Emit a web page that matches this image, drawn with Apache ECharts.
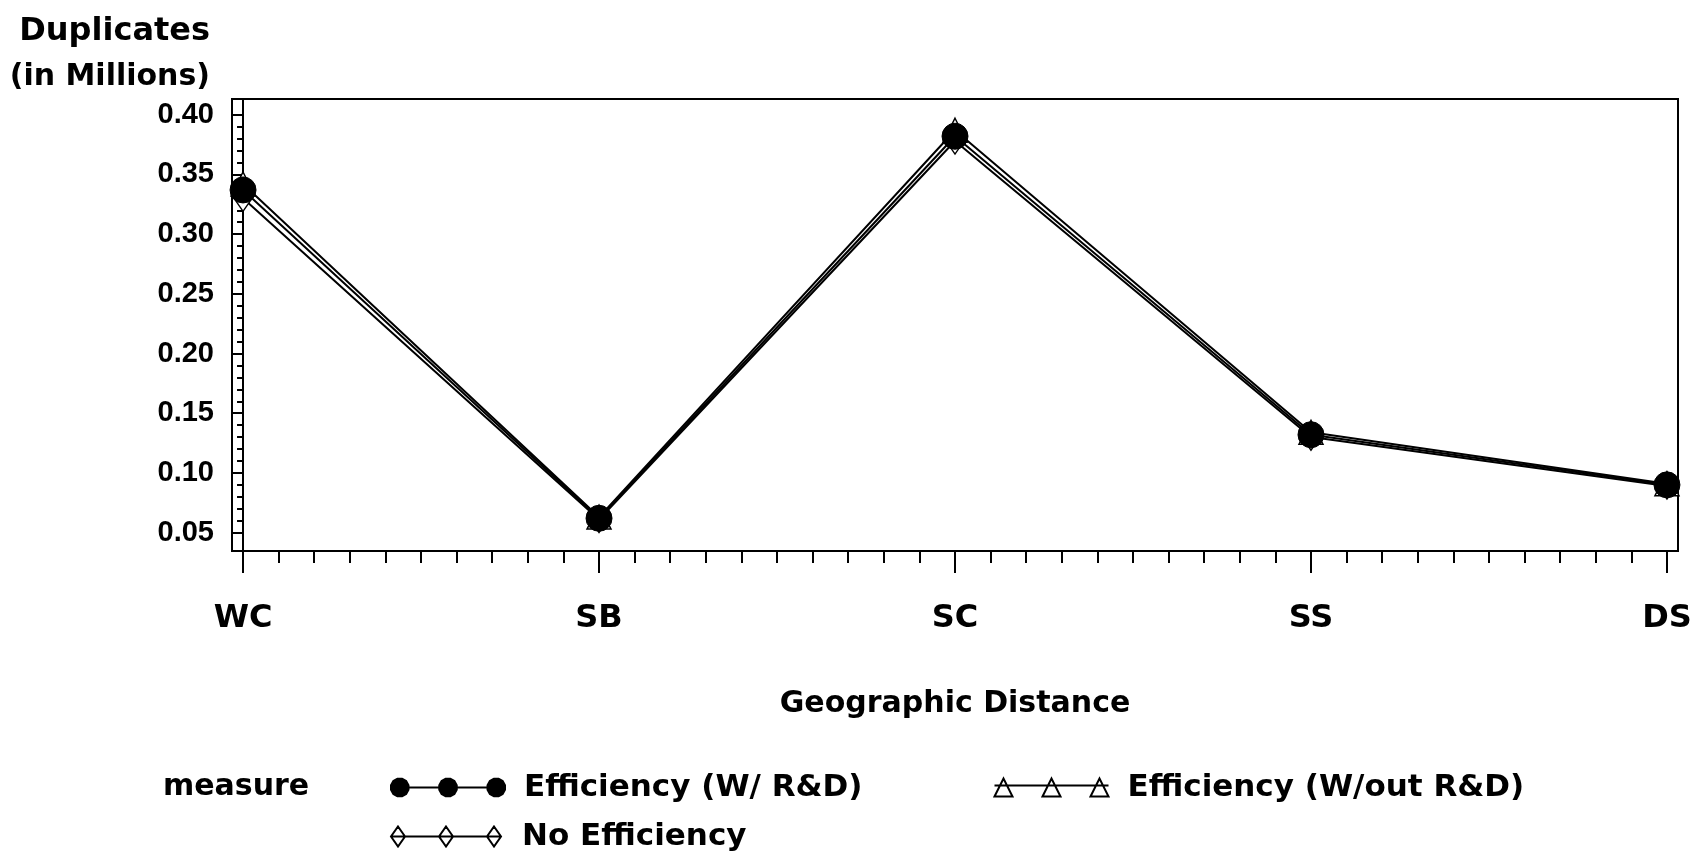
<!DOCTYPE html>
<html>
<head>
<meta charset="utf-8">
<script src="https://cdn.jsdelivr.net/npm/echarts@6/dist/echarts.min.js"></script>
<style>
html,body{margin:0;padding:0;background:#fff;}
#chart{width:1701px;height:852px;}
</style>
</head>
<body>
<div id="chart"></div>
<script>
// ---- data ----
var categories = ['WC', 'SB', 'SC', 'SS', 'DS'];
var seriesNames = ['Efficiency (W/ R&D)', 'Efficiency (W/out R&D)', 'No Efficiency'];
var effWithRD    = [0.337, 0.062, 0.382, 0.132, 0.090];
var effWithoutRD = [0.342, 0.063, 0.387, 0.134, 0.091];
var noEfficiency = [0.330, 0.061, 0.378, 0.130, 0.089];
var yTickValues = [0.05, 0.10, 0.15, 0.20, 0.25, 0.30, 0.35, 0.40];
var xTickValues = [0, 1, 2, 3, 4];

// ---- helpers ----
var FONT = 'DejaVu Sans';
var NUMFONT = 'Liberation Sans';
function pairs(vals) { return vals.map(function (v, i) { return [i, v]; }); }
var yMinor = [];
for (var k = 5; k <= 40; k++) yMinor.push(+(k / 100).toFixed(2));
var xMinor = [];
for (var c = 0; c < 4; c++) for (var m = 1; m <= 9; m++) xMinor.push(c + m / 10);

function polyAround(cx, cy, r, n, rot) {
  var s = '';
  for (var i = 0; i < n; i++) {
    var a = rot + i * 2 * Math.PI / n;
    s += (i === 0 ? 'M' : 'L') + (cx + r * Math.cos(a)).toFixed(2) + ' ' + (cy + r * Math.sin(a)).toFixed(2) + ' ';
  }
  return s + 'Z ';
}
var centers = [9, 57, 105];
var iconCircle = 'path://' + centers.map(function (x) { return polyAround(x, 10, 9, 12, Math.PI / 12); }).join('') + 'M9 10 L105 10';
var iconTriangle = 'path://' + centers.map(function (x) { return 'M' + (x - 9) + ' 19 L' + x + ' 1 L' + (x + 9) + ' 19 Z '; }).join('') + 'M0 8 L114 8';
var iconDiamond = 'path://' + centers.map(function (x) { return 'M' + x + ' 0 L' + (x + 7) + ' 10 L' + x + ' 20 L' + (x - 7) + ' 10 Z '; }).join('') + 'M2 10 L112 10';

var YMIN = 0.0346, YMAX = 0.4132, XMIN = -0.031, XMAX = 4.031;
var txt = { fontFamily: FONT, fontWeight: 'bold', color: '#000' };
var numTxt = { fontFamily: NUMFONT, fontWeight: 'bold', color: '#000' };

var chart = echarts.init(document.getElementById('chart'));
chart.setOption({
  animation: false,
  backgroundColor: '#fff',
  grid: { left: 232, right: 23, top: 99, bottom: 301, show: true, borderColor: '#000', borderWidth: 2, backgroundColor: 'transparent' },
  xAxis: [{
    type: 'value', min: XMIN, max: XMAX, position: 'bottom',
    name: 'Geographic Distance', nameLocation: 'middle', nameGap: 138,
    nameTextStyle: Object.assign({ fontSize: 30 }, txt),
    axisLine: { show: true, lineStyle: { color: '#000', width: 2 } },
    axisTick: { show: true, customValues: xTickValues, length: 22, lineStyle: { color: '#000', width: 2 } },
    axisLabel: Object.assign({ customValues: xTickValues, fontSize: 32, margin: 52,
      formatter: function (v) { return categories[Math.round(v)]; } }, txt),
    splitLine: { show: false }
  }, {
    type: 'value', min: XMIN, max: XMAX, position: 'bottom',
    axisLine: { show: false },
    axisTick: { show: true, customValues: xMinor, length: 12, lineStyle: { color: '#000', width: 2 } },
    axisLabel: { show: false }, splitLine: { show: false }
  }],
  yAxis: [{
    type: 'value', min: YMIN, max: YMAX, position: 'left',
    name: '{a|Duplicates}\n{b|(in Millions)}', nameLocation: 'end', nameGap: -2,
    nameTextStyle: Object.assign({ fontSize: 30, lineHeight: 46, align: 'right', verticalAlign: 'bottom', padding: [0, 33, 0, 0],
      rich: { a: Object.assign({ fontSize: 32, lineHeight: 46 }, txt), b: Object.assign({ fontSize: 30, lineHeight: 46 }, txt) } }, txt),
    axisLine: { show: true, lineStyle: { color: '#000', width: 2 } },
    axisTick: { show: true, customValues: yTickValues, length: 11, lineStyle: { color: '#000', width: 2 } },
    axisLabel: Object.assign({ customValues: yTickValues, fontSize: 29, margin: 18,
      formatter: function (v) { return v.toFixed(2); } }, numTxt),
    splitLine: { show: false }
  }, {
    type: 'value', min: YMIN, max: YMAX, position: 'left',
    axisLine: { show: false },
    axisTick: { show: true, customValues: yMinor, length: 6, lineStyle: { color: '#000', width: 2 } },
    axisLabel: { show: false }, splitLine: { show: false }
  }],
  legend: [{
    left: 390, top: 772, padding: 0, orient: 'horizontal', itemGap: 131,
    itemWidth: 114, itemHeight: 20, selectedMode: false,
    textStyle: Object.assign({ fontSize: 31, lineHeight: 30, padding: [0, 0, 0, 14] }, txt),
    data: [
      { name: seriesNames[0], icon: iconCircle, itemStyle: { color: '#000', borderColor: '#000', borderWidth: 2 } },
      { name: seriesNames[1], icon: iconTriangle, itemStyle: { color: '#fff', borderColor: '#000', borderWidth: 2 } }
    ]
  }, {
    left: 390, top: 821, padding: 0, orient: 'horizontal',
    itemWidth: 114, itemHeight: 20, selectedMode: false,
    textStyle: Object.assign({ fontSize: 31, lineHeight: 30, padding: [0, 0, 0, 14] }, txt),
    data: [
      { name: seriesNames[2], icon: iconDiamond, itemStyle: { color: '#fff', borderColor: '#000', borderWidth: 2 } }
    ]
  }],
  graphic: [{
    type: 'text', left: 163, top: 772,
    style: { text: 'measure', font: 'bold 30px "' + FONT + '"', fill: '#000' }
  }],
  series: [{
    name: seriesNames[1], type: 'line', data: pairs(effWithoutRD), z: 2,
    symbol: 'triangle', symbolSize: 24,
    lineStyle: { color: '#000', width: 2 },
    itemStyle: { color: '#fff', borderColor: '#000', borderWidth: 1.5 }
  }, {
    name: seriesNames[2], type: 'line', data: pairs(noEfficiency), z: 2,
    symbol: 'diamond', symbolSize: [18, 26],
    lineStyle: { color: '#000', width: 2 },
    itemStyle: { color: '#fff', borderColor: '#000', borderWidth: 1.5 }
  }, {
    name: seriesNames[0], type: 'line', data: pairs(effWithRD), z: 4,
    symbol: 'circle', symbolSize: 26,
    lineStyle: { color: '#000', width: 2 },
    itemStyle: { color: '#000', borderColor: '#000', borderWidth: 1 }
  }]
});
</script>
</body>
</html>
